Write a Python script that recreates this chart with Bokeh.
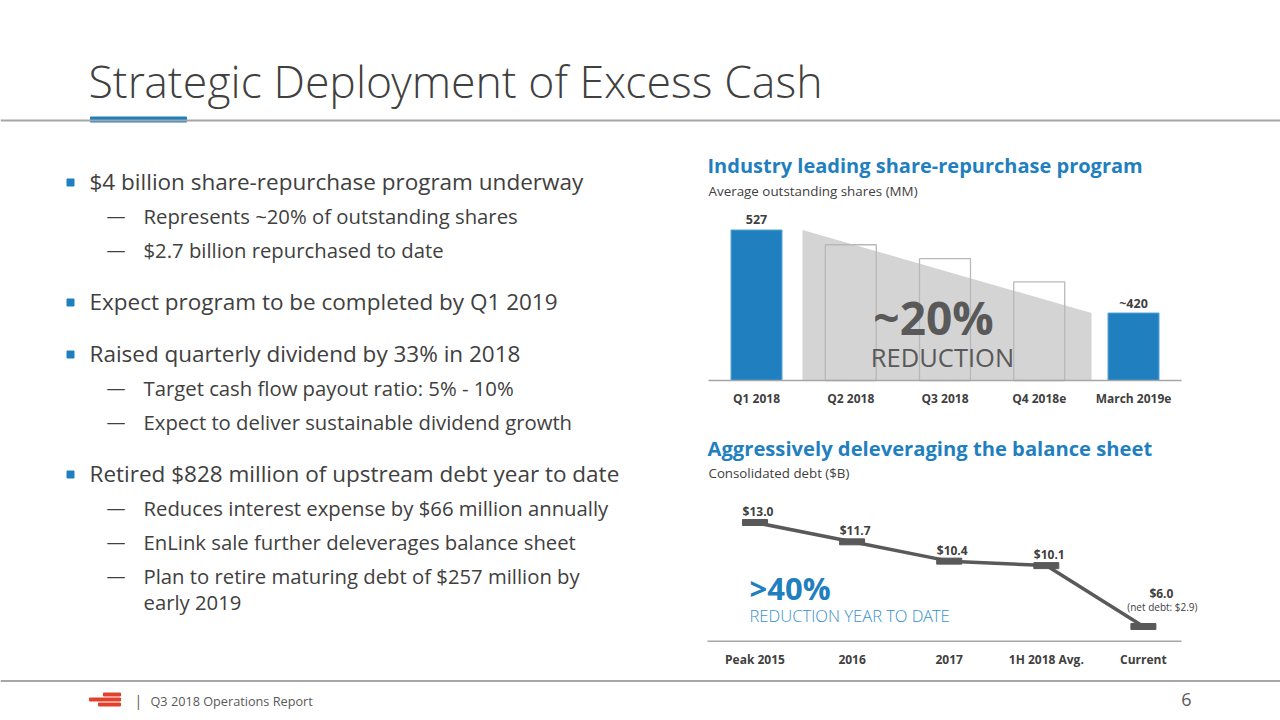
from bokeh.plotting import figure
from bokeh.layouts import column, row
from bokeh.models import Range1d, Span
from bokeh.core.properties import value
from bokeh.embed import file_html
from bokeh.resources import INLINE

# ---------------- data ----------------
TITLE = "Strategic Deployment of Excess Cash"

bullets = [
    ("$4 billion share-repurchase program underway",
     [["Represents ~20% of outstanding shares"], ["$2.7 billion repurchased to date"]]),
    ("Expect program to be completed by Q1 2019", []),
    ("Raised quarterly dividend by 33% in 2018",
     [["Target cash flow payout ratio: 5% - 10%"], ["Expect to deliver sustainable dividend growth"]]),
    ("Retired $828 million of upstream debt year to date",
     [["Reduces interest expense by $66 million annually"],
      ["EnLink sale further deleverages balance sheet"],
      ["Plan to retire maturing debt of $257 million by", "early 2019"]]),
]

bar_title = "Industry leading share-repurchase program"
bar_subtitle = "Average outstanding shares (MM)"
bar_categories = ["Q1 2018", "Q2 2018", "Q3 2018", "Q4 2018e", "March 2019e"]
bar_values = [527, 508, 490, 460, 420]
bar_filled = [True, False, False, False, True]
bar_value_labels = ["527", "", "", "", "~420"]
bar_big = "~20%"
bar_big_sub = "REDUCTION"

debt_title = "Aggressively deleveraging the balance sheet"
debt_subtitle = "Consolidated debt ($B)"
debt_categories = ["Peak 2015", "2016", "2017", "1H 2018 Avg.", "Current"]
debt_values = [13.0, 11.7, 10.4, 10.1, 6.0]
debt_labels = ["$13.0", "$11.7", "$10.4", "$10.1", "$6.0"]
debt_note = "(net debt: $2.9)"
debt_big = ">40%"
debt_big_sub = "REDUCTION YEAR TO DATE"

footer_text = "Q3 2018 Operations Report"
page_number = "6"

# ---------------- styles ----------------
FONT = value("Open Sans")
LIGHT = value("Open Sans Light")
BLUE = "#1f7fbf"
TXT = "#404040"
DARK = "#595959"
LINEGRAY = "#a6a6a6"


def make_fig(w, h, xr, yr):
    p = figure(width=w, height=h, x_range=Range1d(*xr), y_range=Range1d(*yr),
               toolbar_location=None, output_backend="svg",
               x_axis_location=None, y_axis_location=None, min_border=0,
               outline_line_color=None, background_fill_color="white",
               border_fill_color="white")
    p.grid.visible = False
    return p


# ---------------- header ----------------
hdr = make_fig(1280, 130, (0, 1280), (130, 0))
hdr.text(x=[88], y=[80], text=[TITLE], text_font=LIGHT, text_font_size="44.6px",
         text_color=TXT, text_baseline="middle")
hdr.add_layout(Span(location=120, dimension="width", line_color=LINEGRAY, line_width=2))
hdr.quad(left=[90], right=[186], top=[116.5], bottom=[121.5], color=BLUE)

# ---------------- left text ----------------
left = make_fig(700, 545, (0, 700), (675, 130))
y = 181
main_y, main_t = [], []
sub_y, sub_t, dash_y = [], [], []
for main, subs in bullets:
    main_y.append(y)
    main_t.append(main)
    y += 34
    for lines in subs:
        dash_y.append(y)
        for k, ln in enumerate(lines):
            sub_y.append(y)
            sub_t.append(ln)
            y += 34 if k == len(lines) - 1 else 26
    y += 18
left.rect(x=[70] * len(main_y), y=[v + 1 for v in main_y], width=7, height=7, color=BLUE)
left.text(x=[89] * len(main_y), y=main_y, text=main_t, text_font=FONT,
          text_font_size="22.5px", text_color=TXT, text_baseline="middle")
left.text(x=[106] * len(dash_y), y=dash_y, text=["\u2014"] * len(dash_y), text_font=FONT,
          text_font_size="19px", text_color=TXT, text_baseline="middle")
left.text(x=[143] * len(sub_y), y=sub_y, text=sub_t, text_font=FONT,
          text_font_size="20.3px", text_color=TXT, text_baseline="middle")

# ---------------- bar chart ----------------
B_X0, B_DX = 756, 94.25          # pixel of first category, pixels per category
B_BASE, B_PPU, B_Y0 = 380, 0.7758, 333.0   # baseline pixel, pixels per unit, baseline value
bxs = -(B_X0 - 700) / B_DX
bxe = bxs + 580 / B_DX
bys = B_Y0 - (415 - B_BASE) / B_PPU
bye = B_Y0 + (B_BASE - 130) / B_PPU


def bx(px):
    return bxs + (px - 700) / B_DX


def by(py):
    return bye - (py - 130) / B_PPU


barf = make_fig(580, 285, (bxs, bxe), (bys, bye))
barf.text(x=[bx(707)], y=[by(165)], text=[bar_title], text_font=FONT, text_font_size="20px",
          text_font_style="bold", text_color=BLUE, text_baseline="middle")
barf.text(x=[bx(708)], y=[by(190)], text=[bar_subtitle], text_font=FONT, text_font_size="13.4px",
          text_color=TXT, text_baseline="middle")

idx = list(range(len(bar_categories)))
# wedge showing reduction from first to last value
wx0, wx1 = bx(802), bx(1091)
barf.patch(x=[wx0, wx1, wx1, wx0], y=[bar_values[0], bar_values[-1], B_Y0, B_Y0],
           color="#d4d4d4", line_color=None)
outline_x = [i for i in idx if not bar_filled[i]]
barf.vbar(x=outline_x, top=[bar_values[i] for i in outline_x], bottom=B_Y0, width=51 / B_DX,
          fill_color=None, line_color="#b8b8b8", line_width=1.3)
filled_x = [i for i in idx if bar_filled[i]]
barf.vbar(x=filled_x, top=[bar_values[i] for i in filled_x], bottom=B_Y0, width=51 / B_DX,
          fill_color=BLUE, line_color="#5aa6d8", line_width=1)
barf.segment(x0=[bx(708)], x1=[bx(1181)], y0=[B_Y0], y1=[B_Y0], line_color=LINEGRAY, line_width=1.5)
barf.text(x=filled_x, y=[bar_values[i] for i in filled_x], text=[bar_value_labels[i] for i in filled_x],
          text_font=FONT, text_font_size="12.5px", text_font_style="bold", text_color=TXT,
          text_align="center", text_baseline="middle", y_offset=-10)
barf.text(x=idx, y=[by(398)] * len(idx), text=bar_categories, text_font=FONT, text_font_size="12px",
          text_font_style="bold", text_color=TXT, text_align="center", text_baseline="middle")
barf.text(x=[bx(933)], y=[by(316)], text=[bar_big], text_font=FONT, text_font_size="46px",
          text_font_style="bold", text_color=DARK, text_align="center", text_baseline="middle")
barf.text(x=[bx(942)], y=[by(356)], text=[bar_big_sub], text_font=FONT, text_font_size="25.5px",
          text_color=DARK, text_align="center", text_baseline="middle")

# ---------------- line chart ----------------
L_X0, L_DX = 754.5, 97.1
L_REF_PX, L_PPU, L_REF_V = 522, 14.86, 13.0
lxs = -(L_X0 - 700) / L_DX
lxe = lxs + 580 / L_DX
lye = L_REF_V + (L_REF_PX - 415) / L_PPU
lys = L_REF_V - (675 - L_REF_PX) / L_PPU


def lx(px):
    return lxs + (px - 700) / L_DX


def ly(py):
    return lye - (py - 415) / L_PPU


linef = make_fig(580, 260, (lxs, lxe), (lys, lye))
linef.text(x=[lx(707)], y=[ly(447)], text=[debt_title], text_font=FONT, text_font_size="20.2px",
           text_font_style="bold", text_color=BLUE, text_baseline="middle")
linef.text(x=[lx(708)], y=[ly(472)], text=[debt_subtitle], text_font=FONT, text_font_size="13.3px",
           text_color=TXT, text_baseline="middle")
linef.segment(x0=[lx(707)], x1=[lx(1181)], y0=[ly(640.7)], y1=[ly(640.7)],
              line_color=LINEGRAY, line_width=1.5)
didx = list(range(len(debt_categories)))
linef.line(x=didx, y=debt_values, line_color=DARK, line_width=3.5)
linef.rect(x=didx, y=debt_values, width=25, height=6, width_units="screen", height_units="screen",
           color=DARK)
linef.text(x=didx[:-1], y=debt_values[:-1], text=debt_labels[:-1], text_font=FONT,
           text_font_size="12px", text_font_style="bold", text_color=TXT, text_align="center",
           text_baseline="middle", x_offset=3, y_offset=-11)
linef.text(x=didx[-1:], y=debt_values[-1:], text=debt_labels[-1:], text_font=FONT,
           text_font_size="12px", text_font_style="bold", text_color=TXT, text_align="center",
           text_baseline="middle", x_offset=18, y_offset=-33)
linef.text(x=didx[-1:], y=debt_values[-1:], text=[debt_note], text_font=FONT,
           text_font_size="10px", text_color=TXT, text_align="center",
           text_baseline="middle", x_offset=19, y_offset=-20)
linef.text(x=didx, y=[ly(659)] * len(didx), text=debt_categories, text_font=FONT,
           text_font_size="12px", text_font_style="bold", text_color=TXT, text_align="center",
           text_baseline="middle")
linef.text(x=[lx(749)], y=[ly(587)], text=[debt_big], text_font=FONT, text_font_size="31px",
           text_font_style="bold", text_color=BLUE, text_baseline="middle")
linef.text(x=[lx(749)], y=[ly(615)], text=[debt_big_sub], text_font=LIGHT, text_font_size="16.6px",
           text_color="#3a90cc", text_baseline="middle")

# ---------------- footer ----------------
ftr = make_fig(1280, 45, (0, 1280), (720, 675))
ftr.add_layout(Span(location=680.5, dimension="width", line_color=LINEGRAY, line_width=2))
ftr.quad(left=[103, 89, 98], right=[120, 120, 120], top=[692.5, 697.5, 702.5],
         bottom=[695.5, 700.5, 705.5], color="#e2412c")
ftr.text(x=[134], y=[700], text=["|"], text_font=FONT, text_font_size="14px",
         text_color=DARK, text_baseline="middle")
ftr.text(x=[150], y=[700], text=[footer_text], text_font=FONT, text_font_size="12.7px",
         text_color=DARK, text_baseline="middle")
ftr.text(x=[1186], y=[699], text=[page_number], text_font=FONT, text_font_size="18px",
         text_color=DARK, text_align="center", text_baseline="middle")

layout = column(hdr, row(left, column(barf, linef)), ftr)
open("out.html", "w").write(file_html(layout, INLINE))
